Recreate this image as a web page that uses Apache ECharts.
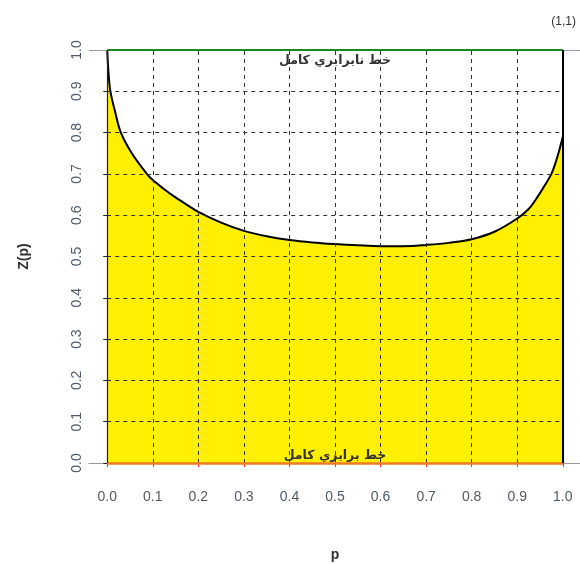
<!DOCTYPE html>
<html>
<head>
<meta charset="utf-8">
<script src="https://cdn.jsdelivr.net/npm/echarts@6/dist/echarts.min.js"></script>
<style>html,body{margin:0;padding:0;background:#fff}#c{width:580px;height:564px}</style>
</head>
<body>
<div id="c"></div>
<script>
// Lorenz-type curve Z(p)
const pValues = [0, 0.003, 0.007, 0.0175, 0.03, 0.054, 0.087, 0.1, 0.125, 0.15, 0.175, 0.2, 0.25, 0.3, 0.35, 0.4, 0.45, 0.5, 0.55, 0.6, 0.65, 0.7, 0.75, 0.8, 0.85, 0.9, 0.925, 0.945, 0.962, 0.975, 0.985, 0.993, 1.0];
const zValues = [1.0, 0.943, 0.9, 0.85, 0.8, 0.75, 0.7, 0.685, 0.663, 0.643, 0.625, 0.608, 0.582, 0.562, 0.549, 0.54, 0.534, 0.53, 0.527, 0.525, 0.525, 0.528, 0.533, 0.542, 0.56, 0.592, 0.615, 0.645, 0.675, 0.7, 0.73, 0.76, 0.79];
const tickValues = [0, 0.1, 0.2, 0.3, 0.4, 0.5, 0.6, 0.7, 0.8, 0.9, 1.0];
const gridValues = [0.1, 0.2, 0.3, 0.4, 0.5, 0.6, 0.7, 0.8, 0.9];
const topLabel = 'خط نابرابري كامل';
const bottomLabel = 'خط برابري كامل';
const cornerLabel = '(1,1)';

const curve = pValues.map((p, i) => [p, zValues[i]]);
const gridLines = [];
gridValues.forEach(v => {
  gridLines.push([{coord: [v, 0]}, {coord: [v, 1]}]);
  gridLines.push([{coord: [0, v]}, {coord: [1, v]}]);
});
const labelFont = 'Liberation Sans, Arial, sans-serif';

const chart = echarts.init(document.getElementById('c'), null, {renderer: 'canvas'});
chart.setOption({
  animation: false,
  backgroundColor: '#fff',
  grid: {left: 89, top: 33.5, width: 492, height: 446, containLabel: false, outerBoundsMode: 'none'},
  xAxis: {
    type: 'value', min: -0.04, max: 1.04,
    name: 'p', nameLocation: 'middle', nameGap: 69, nameMoveOverlap: false,
    nameTextStyle: {fontFamily: labelFont, fontSize: 14, fontWeight: 'bold', color: '#333'},
    axisLine: {show: true, onZero: true, lineStyle: {color: '#999', width: 1}},
    axisTick: {show: true, customValues: tickValues, length: 4, inside: false, lineStyle: {color: '#ff2020', width: 1}},
    axisLabel: {customValues: tickValues, formatter: v => v.toFixed(1), margin: 11,
      fontFamily: labelFont, fontSize: 14, color: '#505a66'},
    splitLine: {show: false}
  },
  yAxis: {
    type: 'value', min: -0.04, max: 1.04,
    name: 'Z(p)', nameLocation: 'middle', nameGap: 58, nameRotate: 90, nameMoveOverlap: false,
    nameTextStyle: {fontFamily: labelFont, fontSize: 14, fontWeight: 'bold', color: '#333'},
    axisLine: {show: false, onZero: true},
    axisTick: {show: true, customValues: tickValues, length: 4, lineStyle: {color: '#222', width: 1}},
    axisLabel: {customValues: tickValues, formatter: v => v.toFixed(1), margin: 5, rotate: 90,
      fontFamily: labelFont, fontSize: 14, color: '#505a66'},
    splitLine: {show: false}
  },
  graphic: [{
    type: 'text', right: 4, top: 16,
    style: {text: cornerLabel, font: '12px Liberation Sans, Arial, sans-serif', fill: '#333'}
  }],
  series: [
    {
      type: 'line', data: curve, z: 1, symbol: 'none', silent: true,
      smooth: 0.35,
      lineStyle: {width: 0},
      areaStyle: {color: '#FFEF00', opacity: 1, origin: 0}
    },
    {
      type: 'line', data: [], z: 2, symbol: 'none', silent: true,
      markLine: {
        symbol: 'none', silent: true, animation: false,
        label: {show: false},
        lineStyle: {color: '#333', type: [4, 4], width: 1},
        data: gridLines
      }
    },
    {
      type: 'line', data: [], z: 3, symbol: 'none', silent: true,
      markLine: {
        symbol: 'none', silent: true, animation: false,
        data: [
          {yAxis: 1, label: {show: false}, lineStyle: {color: '#999', width: 1, type: 'solid'}},
          [{coord: [0, 1], lineStyle: {color: '#1a8a1a', width: 2, type: 'solid'},
            label: {show: true, position: 'insideMiddleBottom', formatter: topLabel, distance: 4,
              fontFamily: 'DejaVu Sans', fontSize: 12.5, fontWeight: 'bold', color: '#333'}}, {coord: [1, 1]}],
          [{coord: [0, 0], lineStyle: {color: '#F07A20', width: 2.5, type: 'solid'},
            label: {show: true, position: 'insideMiddleTop', formatter: bottomLabel, distance: 1,
              fontFamily: 'DejaVu Sans', fontSize: 12.5, fontWeight: 'bold', color: '#333'}}, {coord: [1, 0]}],
          [{coord: [0, 0], label: {show: false}, lineStyle: {color: '#222', width: 1.2, type: 'solid'}}, {coord: [0, 1]}],
          [{coord: [1, 0], label: {show: false}, lineStyle: {color: '#000', width: 2, type: 'solid'}}, {coord: [1, 1]}]
        ]
      }
    },
    {
      type: 'line', data: curve, z: 4, symbol: 'none', silent: true,
      smooth: 0.35,
      lineStyle: {color: '#000', width: 2}
    }
  ]
});
</script>
</body>
</html>
